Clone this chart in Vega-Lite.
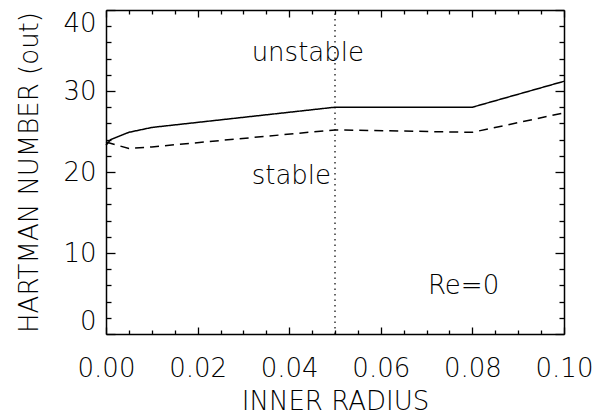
{
  "$schema": "https://vega.github.io/schema/vega-lite/v6.json",
  "width": 458,
  "height": 324,
  "autosize": {"type": "none"},
  "padding": {"left": 106, "top": 10, "right": 31, "bottom": 86},
  "background": "white",
  "config": {
    "view": {"stroke": null},
    "font": "DejaVu Sans",
    "axis": {
      "grid": false,
      "domainColor": "black",
      "domainWidth": 1.5,
      "tickColor": "black",
      "tickWidth": 1.3,
      "labelFont": "DejaVu Sans",
      "labelFontSize": 26,
      "labelFontWeight": 200,
      "labelColor": "black",
      "labelOverlap": false,
      "titleFont": "DejaVu Sans",
      "titleFontSize": 26,
      "titleFontWeight": 200,
      "titleColor": "black"
    }
  },
  "datasets": {
    "curves": [
      {"series": "solid", "r": 0.0, "ha": 23.3},
      {"series": "solid", "r": 0.001, "ha": 24.0},
      {"series": "solid", "r": 0.005, "ha": 24.9},
      {"series": "solid", "r": 0.01, "ha": 25.5},
      {"series": "solid", "r": 0.05, "ha": 28.0},
      {"series": "solid", "r": 0.08, "ha": 28.0},
      {"series": "solid", "r": 0.1, "ha": 31.2},
      {"series": "dashed", "r": 0.0, "ha": 23.7},
      {"series": "dashed", "r": 0.005, "ha": 22.9},
      {"series": "dashed", "r": 0.01, "ha": 23.1},
      {"series": "dashed", "r": 0.05, "ha": 25.2},
      {"series": "dashed", "r": 0.08, "ha": 24.9},
      {"series": "dashed", "r": 0.1, "ha": 27.3}
    ],
    "marker": [{"r": 0.05}],
    "notes": [
      {"label": "unstable", "r": 0.0318, "ha": 34.7},
      {"label": "stable", "r": 0.0318, "ha": 19.5},
      {"label": "Re=0", "r": 0.0703, "ha": 5.9}
    ]
  },
  "layer": [
    {
      "data": {"name": "curves"},
      "mark": {"type": "line", "color": "black", "strokeWidth": 1.5},
      "encoding": {
        "x": {
          "field": "r", "type": "quantitative",
          "scale": {"domain": [0, 0.1], "nice": false, "zero": false},
          "axis": {
            "orient": "bottom",
            "title": "INNER RADIUS",
            "titlePadding": 4,
            "values": [0, 0.005, 0.01, 0.015, 0.02, 0.025, 0.03, 0.035, 0.04, 0.045, 0.05, 0.055, 0.06, 0.065, 0.07, 0.075, 0.08, 0.085, 0.09, 0.095, 0.1],
            "format": ".2f",
            "labelExpr": "abs(datum.value*50 - round(datum.value*50)) < 1e-6 ? datum.label : ''",
            "tickSize": {"condition": {"test": "abs(datum.value*50 - round(datum.value*50)) < 1e-6", "value": -7}, "value": -4},
            "labelPadding": 28,
            "labelFlush": false
          }
        },
        "y": {
          "field": "ha", "type": "quantitative",
          "scale": {"domain": [0, 40], "nice": false},
          "axis": {
            "orient": "left",
            "title": "HARTMAN NUMBER (out)",
            "titlePadding": 20,
            "values": [0, 2, 4, 6, 8, 10, 12, 14, 16, 18, 20, 22, 24, 26, 28, 30, 32, 34, 36, 38, 40],
            "labelExpr": "datum.value % 10 === 0 ? datum.label : ''",
            "tickSize": {"condition": {"test": "datum.value % 10 === 0", "value": -9}, "value": -5},
            "labelPadding": 19,
            "labelFlush": true
          }
        },
        "strokeDash": {
          "field": "series", "type": "nominal",
          "scale": {"domain": ["solid", "dashed"], "range": [[1, 0], [9, 6]]},
          "legend": null
        }
      }
    },
    {
      "data": {"name": "marker"},
      "mark": {"type": "rule", "color": "black", "strokeWidth": 1.2, "strokeDash": [1.5, 4]},
      "encoding": {
        "x": {
          "field": "r", "type": "quantitative",
          "axis": {
            "orient": "top",
            "title": null,
            "labels": false,
            "values": [0, 0.005, 0.01, 0.015, 0.02, 0.025, 0.03, 0.035, 0.04, 0.045, 0.05, 0.055, 0.06, 0.065, 0.07, 0.075, 0.08, 0.085, 0.09, 0.095, 0.1],
            "tickSize": {"condition": {"test": "abs(datum.value*50 - round(datum.value*50)) < 1e-6", "value": -7}, "value": -4}
          }
        },
        "y": {"datum": 0, "type": "quantitative",
          "axis": {
            "orient": "right",
            "title": null,
            "labels": false,
            "values": [0, 2, 4, 6, 8, 10, 12, 14, 16, 18, 20, 22, 24, 26, 28, 30, 32, 34, 36, 38, 40],
            "tickSize": {"condition": {"test": "datum.value % 10 === 0", "value": -9}, "value": -5}
          }
        },
        "y2": {"datum": 40}
      }
    },
    {
      "data": {"name": "notes"},
      "mark": {"type": "text", "align": "left", "baseline": "middle", "fontSize": 26, "font": "DejaVu Sans", "fontWeight": 200, "color": "black"},
      "encoding": {
        "x": {"field": "r", "type": "quantitative", "axis": null},
        "y": {"field": "ha", "type": "quantitative", "axis": null},
        "text": {"field": "label"}
      }
    }
  ],
  "resolve": {"axis": {"x": "independent", "y": "independent"}}
}
